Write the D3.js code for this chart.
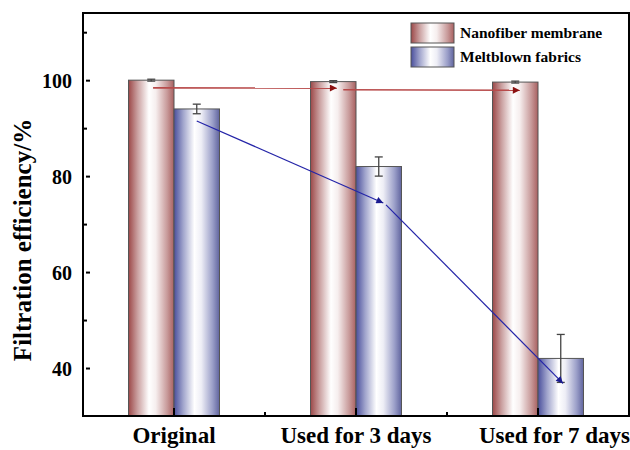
<!DOCTYPE html>
<html>
<head>
<meta charset="utf-8">
<script src="https://cdn.jsdelivr.net/npm/d3@7/dist/d3.min.js"></script>
<style>
  html, body { margin: 0; padding: 0; background: #fff; }
  svg { display: block; }
</style>
</head>
<body>
<svg id="chart" width="630" height="450"></svg>
<script>
// Filtration efficiency of the two materials over time of use
const categories = ["Original", "Used for 3 days", "Used for 7 days"];
const seriesNames = ["Nanofiber membrane", "Meltblown fabrics"];
const nanofiberValues = [100, 99.7, 99.6];
const nanofiberErrors = [0.2, 0.2, 0.2];
const meltblownValues = [94, 82, 42];
const meltblownErrors = [1, 2, 5];
const yMajorTicks = [40, 60, 80, 100];
const yMinorTicks = [50, 70, 90, 110];

// Trend arrows: [category, position across the bar pair (0..1), value]
const nanofiberTrend = [
  [["Original", 0.27, 98.4], ["Used for 3 days", 0.29, 98.35]],
  [["Used for 3 days", 0.36, 98.0], ["Used for 7 days", 0.30, 97.9]]
];
const meltblownTrend = [
  [["Original", 0.75, 91.5], ["Used for 3 days", 0.80, 74.4]],
  [["Used for 3 days", 0.83, 74.0], ["Used for 7 days", 0.775, 36.8]]
];

const FONT = "'Liberation Serif', 'Times New Roman', serif";
const svg = d3.select("#chart");
const plotLeft = 83, plotRight = 629, plotTop = 13, plotBottom = 416;

const x = d3.scaleBand().domain(categories).range([plotLeft, plotRight])
  .paddingInner(0.5).paddingOuter(0.25);
const xs = d3.scaleBand().domain(seriesNames).range([0, x.bandwidth()]);
const y = d3.scaleLinear().domain([30, 114]).range([plotBottom, plotTop]);

// Gradients for the cylinder-like bars
const defs = svg.append("defs");
const gradStops = {
  red: [["0%", "#9c4848"], ["20%", "#caa0a0"], ["45%", "#ffffff"], ["60%", "#f6eeee"], ["85%", "#c89a9a"], ["100%", "#a86060"]],
  blue: [["0%", "#4a4f9c"], ["20%", "#a0a4cc"], ["45%", "#ffffff"], ["60%", "#eeeef6"], ["85%", "#9a9ec8"], ["100%", "#60649e"]]
};
Object.entries(gradStops).forEach(([key, stops]) => {
  const g = defs.append("linearGradient").attr("id", "grad-" + key)
    .attr("x1", "0%").attr("x2", "100%").attr("y1", "0%").attr("y2", "0%");
  stops.forEach(([o, c]) => g.append("stop").attr("offset", o).attr("stop-color", c));
});
const fills = ["url(#grad-red)", "url(#grad-blue)"];

// Arrow markers
[["red", "#8b1010"], ["blue", "#1a1a90"]].forEach(([key, color]) => {
  defs.append("marker").attr("id", "arrow-" + key)
    .attr("viewBox", "0 0 10 10").attr("refX", 10).attr("refY", 5)
    .attr("markerWidth", 12).attr("markerHeight", 7)
    .attr("markerUnits", "userSpaceOnUse").attr("orient", "auto")
    .append("path").attr("d", "M0,0 L10,5 L0,10 Z").attr("fill", color);
});

// Bars
const seriesData = [
  { name: seriesNames[0], values: nanofiberValues, errors: nanofiberErrors },
  { name: seriesNames[1], values: meltblownValues, errors: meltblownErrors }
];
seriesData.forEach((s, si) => {
  const g = svg.append("g");
  g.selectAll("rect").data(categories).join("rect")
    .attr("x", c => x(c) + xs(s.name))
    .attr("y", (c, i) => y(s.values[i]))
    .attr("width", xs.bandwidth())
    .attr("height", (c, i) => y(30) - y(s.values[i]))
    .attr("fill", fills[si])
    .attr("stroke", "#555").attr("stroke-width", 1);
});

// Error bars
seriesData.forEach(s => {
  const g = svg.append("g").attr("stroke", "#444").attr("stroke-width", 1.3);
  categories.forEach((c, i) => {
    const cx = x(c) + xs(s.name) + xs.bandwidth() / 2;
    const hi = y(s.values[i] + s.errors[i]), lo = y(s.values[i] - s.errors[i]);
    g.append("line").attr("x1", cx).attr("x2", cx).attr("y1", hi).attr("y2", lo);
    g.append("line").attr("x1", cx - 4).attr("x2", cx + 4).attr("y1", hi).attr("y2", hi);
    g.append("line").attr("x1", cx - 4).attr("x2", cx + 4).attr("y1", lo).attr("y2", lo);
  });
});

// Trend arrows
const px = p => x(p[0]) + p[1] * x.bandwidth();
[[nanofiberTrend, "#b84a4a", "red", 1.6], [meltblownTrend, "#2424a8", "blue", 1.2]]
  .forEach(([segs, color, key, w]) => {
    segs.forEach(([a, b]) => {
      svg.append("line")
        .attr("x1", px(a)).attr("y1", y(a[2]))
        .attr("x2", px(b)).attr("y2", y(b[2]))
        .attr("stroke", color).attr("stroke-width", w)
        .attr("marker-end", `url(#arrow-${key})`);
    });
  });

// Frame
svg.append("rect").attr("x", plotLeft).attr("y", plotTop)
  .attr("width", plotRight - plotLeft).attr("height", plotBottom - plotTop)
  .attr("fill", "none").attr("stroke", "#000").attr("stroke-width", 2);

const styleText = sel => sel.style("font-family", FONT).style("font-weight", "bold").attr("fill", "#000");

// Y axis
const yAxis = svg.append("g").attr("transform", `translate(${plotLeft},0)`)
  .call(d3.axisLeft(y).tickValues(yMajorTicks).tickSize(-7).tickPadding(11));
yAxis.attr("font-family", null);
yAxis.select(".domain").remove();
yAxis.selectAll(".tick line").attr("stroke-width", 2).attr("x1", 3);
yAxis.selectAll(".tick text").call(styleText).style("font-size", "20px").attr("dy", "0.35em");
const yMinor = svg.append("g").attr("transform", `translate(${plotLeft},0)`)
  .call(d3.axisLeft(y).tickValues(yMinorTicks).tickSize(-4).tickFormat(""));
yMinor.select(".domain").remove();
yMinor.selectAll(".tick line").attr("stroke-width", 2);

// X axis
const xAxis = svg.append("g").attr("transform", `translate(0,${plotBottom})`)
  .call(d3.axisBottom(x).tickSize(-8).tickPadding(11));
xAxis.attr("font-family", null);
xAxis.select(".domain").remove();
xAxis.selectAll(".tick line").attr("stroke-width", 2);
xAxis.selectAll(".tick text").call(styleText).style("font-size", "23px").attr("dy", "0.71em");
// the last label runs out to the right edge of the page
xAxis.selectAll(".tick").filter(c => c === categories[categories.length - 1])
  .each(function (c) {
    const cx = x(c) + x.bandwidth() / 2;
    d3.select(this).select("text").attr("text-anchor", "end").attr("x", 630 - cx);
  });
const xMid = categories.slice(1).map((c, i) => (x(categories[i]) + x(c) + x.bandwidth()) / 2);
svg.append("g").selectAll("line").data(xMid).join("line")
  .attr("x1", d => d).attr("x2", d => d)
  .attr("y1", plotBottom).attr("y2", plotBottom - 4)
  .attr("stroke", "#000").attr("stroke-width", 2);

// Y axis title
svg.append("text")
  .attr("transform", `translate(31,240) rotate(-90)`)
  .attr("text-anchor", "middle")
  .call(styleText)
  .style("font-size", "25px")
  .text("Filtration efficiency/%");

// Legend
const legend = svg.append("g").attr("transform", "translate(411,23)");
seriesNames.forEach((name, i) => {
  const g = legend.append("g").attr("transform", `translate(0,${i * 24})`);
  g.append("rect").attr("width", 43).attr("height", 20)
    .attr("fill", fills[i]).attr("stroke", "#555").attr("stroke-width", 1);
  g.append("text").attr("x", 49).attr("y", 15).call(styleText)
    .style("font-size", "15.5px").text(name);
});
</script>
</body>
</html>
